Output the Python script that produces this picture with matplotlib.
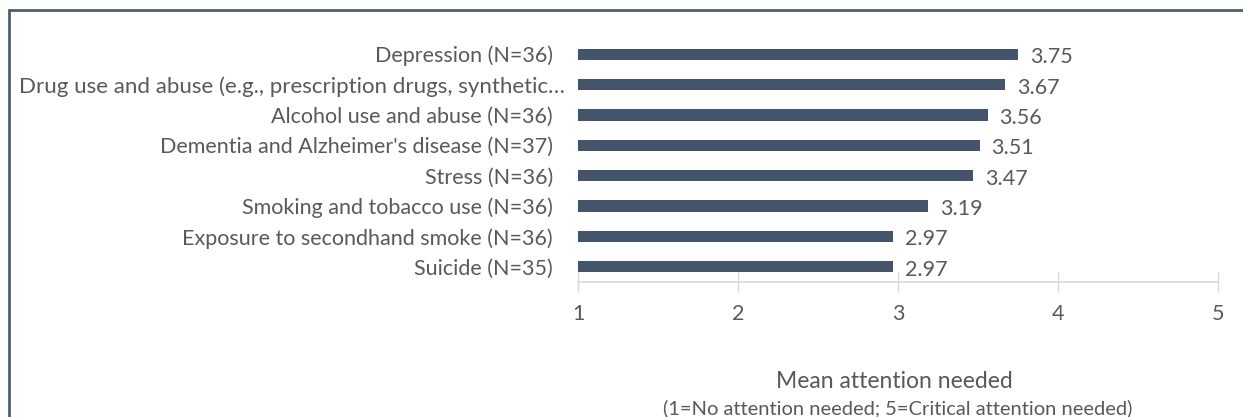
import matplotlib
matplotlib.use("Agg")
import matplotlib.pyplot as plt
from matplotlib.patches import Rectangle
from matplotlib.transforms import ScaledTranslation

categories = [
    "Depression (N=36)",
    "Drug use and abuse (e.g., prescription drugs, synthetic\u2026",
    "Alcohol use and abuse (N=36)",
    "Dementia and Alzheimer's disease (N=37)",
    "Stress (N=36)",
    "Smoking and tobacco use (N=36)",
    "Exposure to secondhand smoke (N=36)",
    "Suicide (N=35)",
]
values = [3.75, 3.67, 3.56, 3.51, 3.47, 3.19, 2.97, 2.97]
xticks = [1, 2, 3, 4, 5]
xlabel_main = "Mean attention needed"
xlabel_sub = "(1=No attention needed; 5=Critical attention needed)"

plt.rcParams['font.family'] = ['Lato', 'DejaVu Sans']
text_color = "#595959"
bar_color = "#44546a"
fs = 15.5

W, H = 1243, 417
fig = plt.figure(figsize=(W / 100, H / 100), dpi=100)
ax = fig.add_axes([578 / W, 1 - 282 / H, (1218 - 578) / W, (282 - 39) / H])

ypos = list(range(len(categories)))
ax.barh(ypos, [v - 1 for v in values], left=1, height=0.37, color=bar_color)
for y, v in zip(ypos, values):
    ax.text(v + 0.075, y + 0.1, f"{v:.2f}", va="center", ha="left",
            fontsize=fs, color=text_color)

ax.set_ylim(len(categories) - 0.5, -0.5)
ax.set_xlim(1, 5)
ax.set_yticks(ypos)
ax.set_yticklabels(categories, fontsize=fs, color=text_color)
ax.tick_params(axis="y", length=0, pad=18)
# the truncated label sits closer to the axis
lbl = ax.get_yticklabels()[1]
lbl.set_transform(lbl.get_transform() + ScaledTranslation(12 / 100, 0, fig.dpi_scale_trans))
lbl.set_fontsize(16)
ax.set_xticks(xticks)
ax.set_xticklabels([str(t) for t in xticks], fontsize=fs, color=text_color)
ax.tick_params(axis="x", direction="inout", length=14, width=1,
               color="#d9d9d9", pad=9)
for s in ["top", "right", "left"]:
    ax.spines[s].set_visible(False)
ax.spines["bottom"].set_color("#d9d9d9")
ax.spines["bottom"].set_linewidth(1.2)

fig.text(894 / W, 1 - 382 / H, xlabel_main, ha="center", va="center",
         fontsize=16.5, color=text_color)
fig.text(898 / W, 1 - 408 / H, xlabel_sub, ha="center", va="center",
         fontsize=14.5, color=text_color)

# outer border (top and left visible)
fig.patches.append(Rectangle((8.5 / W, -0.1), 1.2, 1 - 9.5 / H + 0.1,
                             transform=fig.transFigure, fill=False,
                             edgecolor="#4f5d73", linewidth=2))

fig.savefig("out.png", dpi=100)
